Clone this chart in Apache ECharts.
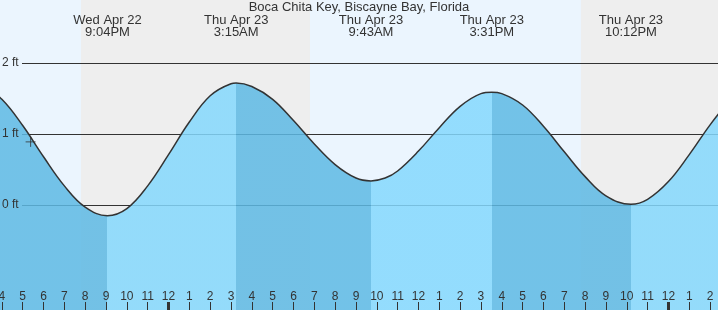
<!DOCTYPE html>
<html>
<head>
<meta charset="utf-8">
<script src="https://cdn.jsdelivr.net/npm/echarts@6/dist/echarts.min.js"></script>
<style>
html, body { margin: 0; padding: 0; }
#chart { width: 718px; height: 310px; }
</style>
</head>
<body>
<div id="chart"></div>
<script>
// time = hours relative to Thu Apr 23 00:00, height in ft
var tideHours = [-9.6, -9, -8, -7, -6, -5, -4, -2.93, -2, -1, 0, 1, 2, 3, 3.25, 4, 5, 6, 7, 8, 9, 9.72,
    10.4, 11, 12, 13, 14, 15, 15.52, 16, 17, 18, 19, 20, 21, 22.2, 23, 24, 25, 26, 27];
var tideFeet = [1.75, 1.71, 1.49, 1.12, 0.68, 0.27, -0.03, -0.15, -0.05, 0.27, 0.71, 1.17, 1.54, 1.71, 1.72, 1.67, 1.49, 1.19, 0.86, 0.57, 0.38, 0.34,
    0.38, 0.48, 0.76, 1.09, 1.39, 1.57, 1.59, 1.57, 1.41, 1.11, 0.75, 0.40, 0.13, 0.01, 0.08, 0.33, 0.71, 1.13, 1.50];

// high / low tides
var extremeHours = [-9.6, -2.93, 3.25, 9.72, 15.52, 22.2];
var extremeKind = ['H', 'L', 'H', 'L', 'H', 'L'];
var extremeDay = ['Wed Apr 22', 'Wed Apr 22', 'Thu Apr 23', 'Thu Apr 23', 'Thu Apr 23', 'Thu Apr 23'];
var extremeClock = ['2:24PM', '9:04PM', '3:15AM', '9:43AM', '3:31PM', '10:12PM'];

// night (sunset -> sunrise)
var nightStart = [-4.2, 19.8];
var nightEnd = [6.79, 26.38];

var hourTicks = [-8, -7, -6, -5, -4, -3, -2, -1, 0, 1, 2, 3, 4, 5, 6, 7, 8, 9, 10, 11, 12,
    13, 14, 15, 16, 17, 18, 19, 20, 21, 22, 23, 24, 25, 26];
var hourLabels = ['4', '5', '6', '7', '8', '9', '10', '11', '12', '1', '2', '3', '4', '5', '6', '7', '8', '9', '10', '11', '12',
    '1', '2', '3', '4', '5', '6', '7', '8', '9', '10', '11', '12', '1', '2'];
var midnightTicks = [0, 24];

var yTicks = [0, 1, 2];
var yLabels = ['0 ft', '1 ft', '2 ft'];

var nowMark = [-6.62, 0.89];

var xMin = -8.09, xMax = 26.38;
var yMin = -1.48, yMax = 2.89;

var fallColor = '#5db9e4';
var riseColor = '#84d8fd';

var tideData = [];
for (var i = 0; i < tideHours.length; i++) {
    tideData.push([tideHours[i], tideFeet[i]]);
}

// falling water = darker blue, rising = lighter blue
var pieces = [{lt: extremeHours[0], color: extremeKind[0] == 'H' ? riseColor : fallColor}];
for (var k = 0; k < extremeHours.length; k++) {
    var p = {gte: extremeHours[k], color: extremeKind[k] == 'H' ? fallColor : riseColor};
    if (k < extremeHours.length - 1) p.lt = extremeHours[k + 1];
    pieces.push(p);
}

var nightAreas = [];
for (var n = 0; n < nightStart.length; n++) {
    nightAreas.push([{xAxis: nightStart[n]}, {xAxis: nightEnd[n]}]);
}

var chart = echarts.init(document.getElementById('chart'));
var option = {
    animation: false,
    textStyle: {fontFamily: 'Liberation Sans, Arial, sans-serif'},
    title: {
        text: 'Boca Chita Key, Biscayne Bay, Florida',
        left: 'center',
        top: 1,
        padding: 0,
        z: 10,
        textStyle: {fontSize: 13, fontWeight: 'normal', color: '#333'}
    },
    grid: [
        {left: 0, right: 0, top: 0, bottom: 0, show: true, backgroundColor: '#ebf5fe', borderWidth: 0, outerBoundsMode: 'none'},
        {left: 22, right: 0, top: 0, bottom: 0, outerBoundsMode: 'none'}
    ],
    visualMap: {
        type: 'piecewise',
        show: false,
        dimension: 0,
        seriesIndex: 2,
        pieces: pieces
    },
    xAxis: [{
        gridIndex: 0, type: 'value', min: xMin, max: xMax, position: 'bottom', z: 10,
        axisLine: {show: false, onZero: false},
        splitLine: {show: false},
        axisTick: {inside: true, length: 8, lineStyle: {color: '#333'}, customValues: hourTicks},
        axisLabel: {
            inside: true, margin: 7, fontSize: 12, color: '#333', customValues: hourTicks,
            formatter: function (v) { return hourLabels[hourTicks.indexOf(v)]; }
        }
    }, {
        gridIndex: 0, type: 'value', min: xMin, max: xMax, position: 'bottom', z: 10,
        axisLine: {show: false, onZero: false},
        splitLine: {show: false},
        axisLabel: {show: false},
        axisTick: {inside: true, length: 8, lineStyle: {color: '#333', width: 3}, customValues: midnightTicks}
    }, {
        gridIndex: 0, type: 'value', min: xMin, max: xMax, position: 'top', z: 10,
        axisLine: {show: false, onZero: false},
        splitLine: {show: false},
        axisTick: {show: false},
        axisLabel: {
            inside: true, margin: 14, fontSize: 13, lineHeight: 12, color: '#333', customValues: extremeHours,
            formatter: function (v) {
                var idx = extremeHours.indexOf(v);
                return extremeDay[idx] + '\n' + extremeClock[idx];
            }
        }
    }, {
        gridIndex: 1, type: 'value', min: xMin, max: xMax, show: false
    }],
    yAxis: [{
        gridIndex: 0, type: 'value', min: yMin, max: yMax, z: 10,
        axisLine: {show: false, onZero: false},
        axisTick: {show: false},
        splitLine: {show: false},
        axisLabel: {
            inside: true, margin: 2, fontSize: 12, color: '#333', customValues: yTicks,
            formatter: function (v) { return yLabels[yTicks.indexOf(v)]; }
        }
    }, {
        gridIndex: 1, type: 'value', min: yMin, max: yMax, show: false
    }],
    series: [{
        name: 'night',
        type: 'line',
        xAxisIndex: 0, yAxisIndex: 0,
        data: [],
        silent: true,
        z: 1,
        markArea: {silent: true, itemStyle: {color: '#eeeeee'}, data: nightAreas}
    }, {
        name: 'gridlines',
        type: 'line',
        xAxisIndex: 3, yAxisIndex: 1,
        data: [],
        silent: true,
        z: 2,
        markLine: {
            silent: true, symbol: 'none', z: 2,
            label: {show: false},
            lineStyle: {color: '#333', width: 1, type: 'solid'},
            data: yTicks.map(function (v) { return {yAxis: v}; })
        }
    }, {
        name: 'tide',
        type: 'line',
        xAxisIndex: 0, yAxisIndex: 0,
        data: tideData,
        smooth: 0.4,
        showSymbol: false,
        z: 3,
        lineStyle: {color: '#333', width: 1.5},
        areaStyle: {opacity: 0.85, origin: 'start'}
    }, {
        name: 'now',
        type: 'scatter',
        xAxisIndex: 0, yAxisIndex: 0,
        data: [nowMark],
        symbol: 'path://M0,5L10,5M5,0L5,10',
        symbolSize: 10,
        z: 4,
        itemStyle: {color: 'none', borderColor: '#333', borderWidth: 1}
    }]
};
chart.setOption(option);
</script>
</body>
</html>
